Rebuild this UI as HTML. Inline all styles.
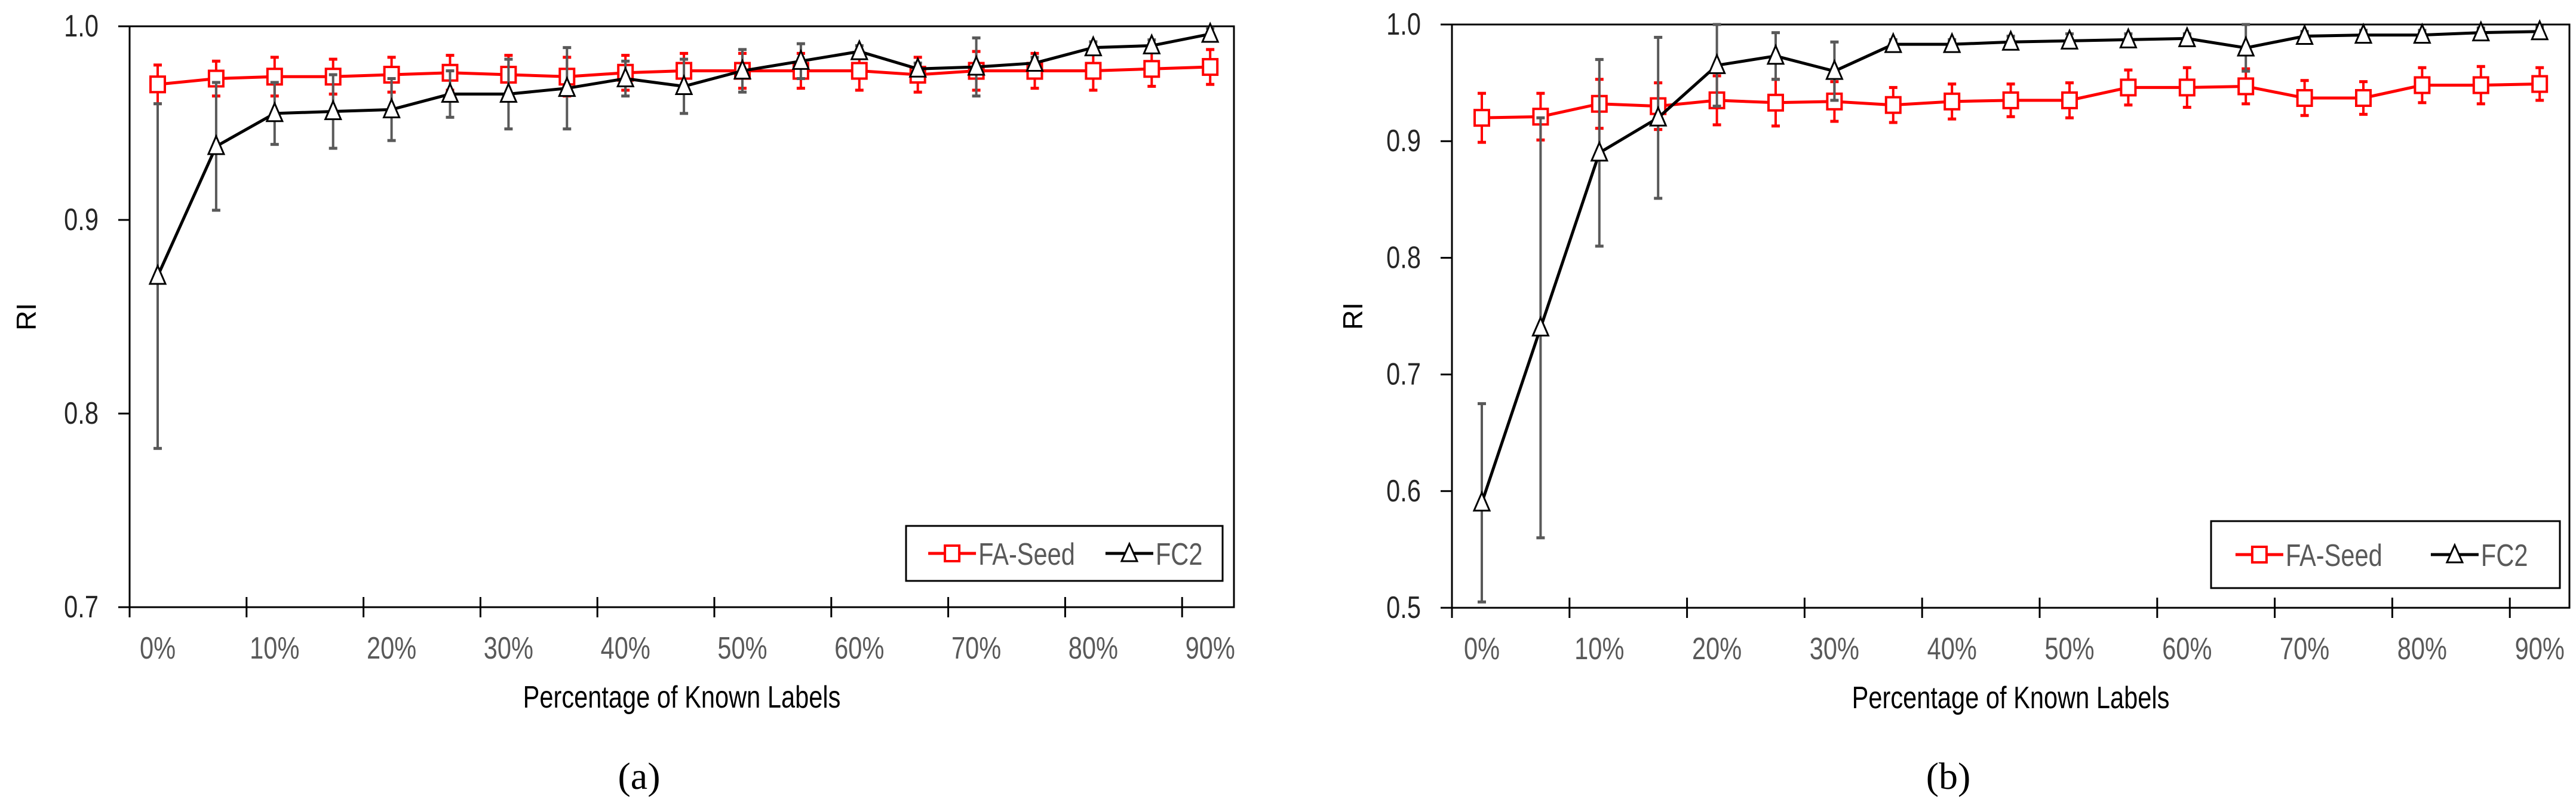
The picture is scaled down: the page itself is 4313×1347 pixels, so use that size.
<!DOCTYPE html>
<html><head><meta charset="utf-8"><style>
html,body{margin:0;padding:0;background:#fff;}
svg{display:block;}
</style></head><body>
<svg id="fig" width="4313" height="1347" viewBox="0 0 4313 1347" xmlns="http://www.w3.org/2000/svg"></svg>
<script>
const categories = ["0%","5%","10%","15%","20%","25%","30%","35%","40%","45%","50%","55%","60%","65%","70%","75%","80%","85%","90%"];
const xTickLabels = ["0%","10%","20%","30%","40%","50%","60%","70%","80%","90%"];
const aTicks = [0.7,0.8,0.9,1.0];
const aFaSeed = [0.970,0.973,0.974,0.974,0.975,0.976,0.975,0.974,0.976,0.977,0.977,0.977,0.977,0.975,0.977,0.977,0.977,0.978,0.979];
const aFaSeedErr = [0.010,0.009,0.010,0.009,0.009,0.009,0.010,0.010,0.009,0.009,0.009,0.009,0.010,0.009,0.010,0.009,0.010,0.009,0.009];
const aFC2 = [0.871,0.938,0.955,0.956,0.957,0.965,0.965,0.968,0.973,0.969,0.977,0.982,0.987,0.978,0.979,0.981,0.989,0.990,0.996];
const aFC2Err = [0.089,0.033,0.016,0.019,0.016,0.012,0.018,0.021,0.009,0.014,0.011,0.009,0.003,0.003,0.015,0.003,0.003,0.003,0.003];
const bTicks = [0.5,0.6,0.7,0.8,0.9,1.0];
const bFaSeed = [0.920,0.921,0.932,0.930,0.935,0.933,0.934,0.931,0.934,0.935,0.935,0.946,0.946,0.947,0.937,0.937,0.948,0.948,0.949];
const bFaSeedErr = [0.021,0.020,0.021,0.020,0.021,0.020,0.017,0.015,0.015,0.014,0.015,0.015,0.017,0.015,0.015,0.014,0.015,0.016,0.014];
const bFC2 = [0.590,0.740,0.890,0.920,0.965,0.973,0.960,0.983,0.983,0.985,0.986,0.987,0.988,0.980,0.990,0.991,0.991,0.993,0.994];
const bFC2Err = [0.085,0.180,0.080,0.069,0.035,0.020,0.025,0.004,0.004,0.005,0.006,0.005,0.004,0.020,0.004,0.004,0.004,0.004,0.004];

const NS="http://www.w3.org/2000/svg";
const svg=document.getElementById('fig');
function mk(tag,attrs,parent,text){const e=document.createElementNS(NS,tag);for(const k in attrs)e.setAttribute(k,attrs[k]);if(text!==undefined)e.textContent=text;(parent||svg).appendChild(e);return e;}
const FONT='Liberation Sans, sans-serif';
function ctext(x,y,anchor,size,fill,parent,str){
  return mk('text',{x:0,y:0,transform:`translate(${x},${y}) scale(0.8,1)`,'text-anchor':anchor,'font-family':FONT,'font-size':size,fill:fill},parent,str);
}

function chart(cfg){
  const g=mk('g',{});
  
  
  const {L,R,T,B,ymin,ymax,x0,step}=cfg;
  const y=v=>B-(v-ymin)/(ymax-ymin)*(B-T);
  const x=i=>x0+i*step;
  const frame=mk('rect',{x:L,y:T,width:R-L,height:B-T,fill:'none',stroke:'#000','stroke-width':3},g);
  
  
  cfg.ticks.forEach(t=>{
    mk('line',{x1:L-19,x2:L,y1:y(t),y2:y(t),stroke:'#000','stroke-width':3},g);
    const tl=ctext(L-52,y(t)+17,'end',52,'#262626',g,t.toFixed(1));
    
    
  });
  for(let k=0;k<=categories.length/2;k++){
    const tx=L+k*step*2;
    if(tx<=R+1) mk('line',{x1:tx,x2:tx,y1:B-17,y2:B+17,stroke:'#000','stroke-width':3},g);
  }
  xTickLabels.forEach((lab,k)=>{
    const tl=ctext(x(k*2),B+86,'middle',52,'#595959',g,lab);
    
    
  });
  const xt=ctext((L+R)/2,B+168,'middle',52,'#000',g,'Percentage of Known  Labels');
  
  
  const yt=mk('text',{x:0,y:0,transform:`translate(${cfg.ylabX},${(T+B)/2}) rotate(-90)`,'text-anchor':'middle','font-family':FONT,'font-size':46,fill:'#000'},g,'RI');
  
  

  function series(vals,errs,color,ecolor,marker,name){
    const sg=mk('g',{},g);
    
    
    vals.forEach((v,i)=>{
      const eb=mk('g',{},sg);
      
      
      const hi=Math.min(v+errs[i],ymax), lo=v-errs[i];
      mk('line',{x1:x(i),x2:x(i),y1:y(hi),y2:y(lo),stroke:ecolor,'stroke-width':4},eb);
      mk('line',{x1:x(i)-7,x2:x(i)+7,y1:y(hi),y2:y(hi),stroke:ecolor,'stroke-width':5},eb);
      mk('line',{x1:x(i)-7,x2:x(i)+7,y1:y(lo),y2:y(lo),stroke:ecolor,'stroke-width':5},eb);
    });
    const pts=vals.map((v,i)=>x(i)+','+y(v)).join(' ');
    const pl=mk('polyline',{points:pts,fill:'none',stroke:color,'stroke-width':5},sg);
    
    
    vals.forEach((v,i)=>{
      let m;
      if(marker==='sq') m=mk('rect',{x:x(i)-12,y:y(v)-13,width:24,height:26,fill:'#fff',stroke:color,'stroke-width':4},sg);
      else m=mk('polygon',{points:`${x(i)},${y(v)-17} ${x(i)-13},${y(v)+13} ${x(i)+13},${y(v)+13}`,fill:'#fff',stroke:color,'stroke-width':3},sg);
      
      
    });
  }
  series(cfg.fa,cfg.faErr,'#ff0000','#ff0000','sq','fa-seed-series');
  series(cfg.fc,cfg.fcErr,'#000','#595959','tri','fc2-series');

  const lg=mk('g',{},g);
  
  
  const [lx,ly,lw,lh]=cfg.legend;
  mk('rect',{x:lx,y:ly,width:lw,height:lh,fill:'#fff',stroke:'#000','stroke-width':3},lg);
  const cy=ly+lh/2;
  const e1=mk('g',{},lg);
  
  
  const a=lx+lw*0.07;
  mk('line',{x1:a,x2:a+80,y1:cy,y2:cy,stroke:'#ff0000','stroke-width':5},e1);
  mk('rect',{x:a+28,y:cy-13,width:24,height:26,fill:'#fff',stroke:'#ff0000','stroke-width':4},e1);
  ctext(a+84,cy+19,'start',52,'#595959',e1,'FA-Seed');
  const e2=mk('g',{},lg);
  
  
  const b=lx+lw*0.63;
  mk('line',{x1:b,x2:b+80,y1:cy,y2:cy,stroke:'#000','stroke-width':5},e2);
  mk('polygon',{points:`${b+40},${cy-16} ${b+27},${cy+13} ${b+53},${cy+13}`,fill:'#fff',stroke:'#000','stroke-width':3},e2);
  ctext(b+84,cy+19,'start',52,'#595959',e2,'FC2');

  const cap=mk('text',{x:cfg.capX,y:1320,'text-anchor':'middle','font-family':'Liberation Serif, serif','font-size':64,fill:'#000'},g,cfg.cap);
  
  
}

chart({name:'chart-a',L:217,R:2066,T:44,B:1016,ymin:0.7,ymax:1.0,x0:264,step:97.9,ticks:aTicks,
  fa:aFaSeed,faErr:aFaSeedErr,fc:aFC2,fcErr:aFC2Err,legend:[1517,880,530,92],ylabX:60,cap:'(a)',capX:1070});
chart({name:'chart-b',L:2431,R:4302,T:41,B:1017,ymin:0.5,ymax:1.0,x0:2481,step:98.4,ticks:bTicks,
  fa:bFaSeed,faErr:bFaSeedErr,fc:bFC2,fcErr:bFC2Err,legend:[3702,872,584,112],ylabX:2281,cap:'(b)',capX:3262});
</script>
</body></html>
